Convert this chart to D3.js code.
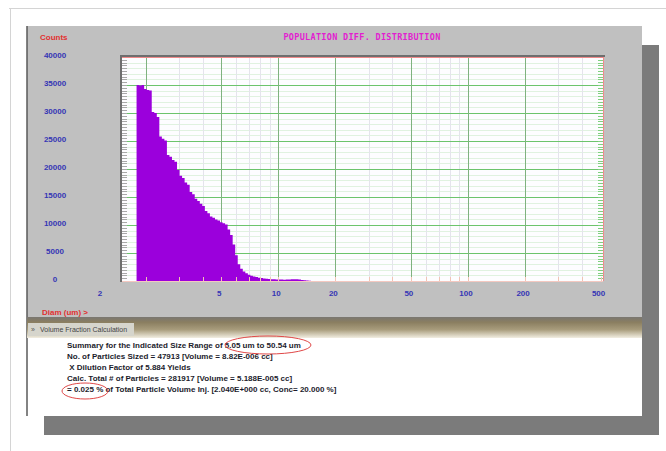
<!DOCTYPE html>
<html>
<head>
<meta charset="utf-8">
<script src="https://cdnjs.cloudflare.com/ajax/libs/d3/7.8.5/d3.min.js"></script>
<style>
body { margin: 0; background: #fff; }
svg { display: block; }
</style>
</head>
<body>
<svg width="666" height="451"></svg>
<script>
// particle counts per size channel (geometric channels starting at binStart um)
var counts = [35000, 34900, 35000, 34300, 34100, 34000, 30200, 30000, 29300, 25800,
    25400, 25100, 22500, 22200, 21600, 21300, 19800, 18800, 18400, 17600,
    17200, 15900, 15500, 14700, 14300, 13800, 13400, 12500, 12100, 11500,
    11300, 11000, 10800, 10500, 10300, 10100, 9200, 8200, 6500, 4600,
    3000, 2200, 1700, 1400, 1100, 950, 800, 700, 600, 520,
    450, 400, 360, 330, 300, 280, 260, 250, 230, 250,
    280, 320, 330, 300, 250, 200, 150, 100, 60];
var binStart = 1.79;
var binsPerDecade = 75;

var yTicks = [0, 5000, 10000, 15000, 20000, 25000, 30000, 35000, 40000];
var xTicks = [2, 5, 10, 20, 50, 100, 200, 500];
var xMinor = [3, 4, 6, 7, 8, 9, 30, 40, 60, 70, 80, 90, 300, 400];

var titleText = "POPULATION DIFF. DISTRIBUTION";
var yTitle = "Counts";
var xTitle = "Diam (um) >";
var tabText = "Volume Fraction Calculation";
var summaryLines = [
    "Summary for the Indicated Size Range of 5.05 um to 50.54 um",
    "No. of Particles Sized = 47913 [Volume = 8.82E-006 cc]",
    " X Dilution Factor of 5.884 Yields",
    "Calc. Total # of Particles = 281917 [Volume = 5.188E-005 cc]",
    "= 0.025 % of Total Particle Volume Inj. [2.040E+000 cc, Conc= 20.000 %]"
];

var svg = d3.select("svg");

// outer page frame
svg.append("line").attr("x1", 9).attr("x2", 666).attr("y1", 8.5).attr("y2", 8.5)
    .attr("stroke", "#d4d4d4");
svg.append("line").attr("x1", 10.5).attr("x2", 10.5).attr("y1", 8).attr("y2", 451)
    .attr("stroke", "#d4d4d4");

// window + drop shadow
svg.append("rect").attr("x", 44).attr("y", 45).attr("width", 615).attr("height", 390)
    .attr("fill", "#7b7b7b");
svg.append("rect").attr("x", 27).attr("y", 26).attr("width", 615).attr("height", 390)
    .attr("fill", "#fff");
svg.append("rect").attr("x", 27).attr("y", 26).attr("width", 615).attr("height", 291)
    .attr("fill", "#c0c0c0");
svg.append("line").attr("x1", 27).attr("x2", 27).attr("y1", 26).attr("y2", 416)
    .attr("stroke", "#5a5a5a").attr("stroke-width", 1.5);

// tab band
var defs = svg.append("defs");
var grad = defs.append("linearGradient").attr("id", "band").attr("x1", 0).attr("x2", 0).attr("y1", 0).attr("y2", 1);
grad.append("stop").attr("offset", "0%").attr("stop-color", "#7a7772");
grad.append("stop").attr("offset", "25%").attr("stop-color", "#8a7e60");
grad.append("stop").attr("offset", "60%").attr("stop-color", "#a89c7c");
grad.append("stop").attr("offset", "100%").attr("stop-color", "#f2eee2");
svg.append("rect").attr("x", 27).attr("y", 317).attr("width", 615).attr("height", 21)
    .attr("fill", "url(#band)");
svg.append("rect").attr("x", 28).attr("y", 323).attr("width", 106).attr("height", 13)
    .attr("fill", "#d6d5cc");
svg.append("text").attr("x", 31).attr("y", 332).text("\u00bb")
    .attr("font-family", "Liberation Sans").attr("font-size", 7).attr("fill", "#555");
svg.append("text").attr("x", 40).attr("y", 332).text(tabText)
    .attr("font-family", "Liberation Sans").attr("font-size", 7).attr("fill", "#444");

// plot
var pLeft = 122, pRight = 603, pTop = 57, pBottom = 281;
var x = d3.scaleLog().domain([1.5, 515]).range([pLeft, pRight]);
var y = d3.scaleLinear().domain([0, 40000]).range([pBottom, pTop]);

svg.append("rect").attr("x", pLeft).attr("y", pTop).attr("width", pRight - pLeft).attr("height", pBottom - pTop)
    .attr("fill", "#fdfdff");

// minor horizontal grid every 1000
svg.append("g").selectAll("line").data(d3.range(0, 40001, 1000)).enter().append("line")
    .attr("x1", pLeft).attr("x2", pRight)
    .attr("y1", function (d) { return Math.round(y(d)) + 0.5; })
    .attr("y2", function (d) { return Math.round(y(d)) + 0.5; })
    .attr("stroke", "#e0f2e0");
// minor vertical grid
svg.append("g").selectAll("line").data(xMinor).enter().append("line")
    .attr("x1", function (d) { return Math.round(x(d)) + 0.5; })
    .attr("x2", function (d) { return Math.round(x(d)) + 0.5; })
    .attr("y1", pTop).attr("y2", pBottom)
    .attr("stroke", "#e4e4ec");
// major grid
svg.append("g").selectAll("line").data(yTicks.slice(1)).enter().append("line")
    .attr("x1", pLeft).attr("x2", pRight)
    .attr("y1", function (d) { return Math.round(y(d)) + 0.5; })
    .attr("y2", function (d) { return Math.round(y(d)) + 0.5; })
    .attr("stroke", "#6cc46c");
svg.append("g").selectAll("line").data(xTicks.slice(0, -1)).enter().append("line")
    .attr("x1", function (d) { return Math.round(x(d)) + 0.5; })
    .attr("x2", function (d) { return Math.round(x(d)) + 0.5; })
    .attr("y1", pTop).attr("y2", pBottom)
    .attr("stroke", "#7fb27f");

// histogram as one stepped area
var binEdge = function (i) { return binStart * Math.pow(10, i / binsPerDecade); };
var steps = counts.map(function (c, i) { return [binEdge(i), c]; });
steps.push([binEdge(counts.length), counts[counts.length - 1]]);
var area = d3.area()
    .x(function (d) { return x(d[0]); })
    .y0(pBottom)
    .y1(function (d) { return y(d[1]); })
    .curve(d3.curveStepAfter);
svg.append("path").datum(steps).attr("d", area).attr("fill", "#9b00dc");

// edge ticks
svg.append("g").selectAll("line").data(d3.range(0, 40001, 500)).enter().append("line")
    .attr("x1", pLeft).attr("x2", pLeft + 5)
    .attr("y1", function (d) { return Math.round(y(d)) + 0.5; })
    .attr("y2", function (d) { return Math.round(y(d)) + 0.5; })
    .attr("stroke", "#a8a8a8");
svg.append("g").selectAll("line").data(d3.range(0, 40001, 500)).enter().append("line")
    .attr("x1", pRight - 5).attr("x2", pRight)
    .attr("y1", function (d) { return Math.round(y(d)) + 0.5; })
    .attr("y2", function (d) { return Math.round(y(d)) + 0.5; })
    .attr("stroke", "#7fd07f");
svg.append("g").selectAll("line").data(xMinor.concat(xTicks)).enter().append("line")
    .attr("x1", function (d) { return Math.round(x(d)) + 0.5; })
    .attr("x2", function (d) { return Math.round(x(d)) + 0.5; })
    .attr("y1", pBottom - 4).attr("y2", pBottom)
    .attr("stroke", "#f0c4b4");

// frame
svg.append("line").attr("x1", pRight + 0.5).attr("x2", pRight + 0.5).attr("y1", pTop).attr("y2", pBottom)
    .attr("stroke", "#f08a8a");
svg.append("line").attr("x1", pLeft).attr("x2", pRight).attr("y1", pBottom + 0.5).attr("y2", pBottom + 0.5)
    .attr("stroke", "#f4c8c0");
svg.append("line").attr("x1", pLeft - 2).attr("x2", pRight + 2).attr("y1", pTop - 1).attr("y2", pTop - 1)
    .attr("stroke", "#6e6e6e").attr("stroke-width", 2);
svg.append("line").attr("x1", pLeft - 1).attr("x2", pLeft - 1).attr("y1", pTop - 2).attr("y2", pBottom + 1)
    .attr("stroke", "#6e6e6e").attr("stroke-width", 2);
svg.append("line").attr("x1", pLeft).attr("x2", pRight).attr("y1", pTop + 0.5).attr("y2", pTop + 0.5)
    .attr("stroke", "#f08a8a");

// axis labels
svg.append("g").selectAll("text").data(yTicks).enter().append("text")
    .attr("x", 55).attr("y", function (d) { return y(d) + 1; })
    .attr("text-anchor", "middle")
    .attr("font-family", "Liberation Sans").attr("font-weight", "bold").attr("font-size", 8)
    .attr("fill", "#3535b5")
    .text(function (d) { return d; });
svg.append("g").selectAll("text").data(xTicks).enter().append("text")
    .attr("x", function (d, i) { return i === 0 ? x.range()[0] - 22 : x(d) - 2; })
    .attr("y", 296)
    .attr("text-anchor", "middle")
    .attr("font-family", "Liberation Sans").attr("font-weight", "bold").attr("font-size", 8)
    .attr("fill", "#3535b5")
    .text(function (d) { return d; });

svg.append("text").attr("x", 40).attr("y", 40).text(yTitle)
    .attr("font-family", "Liberation Sans").attr("font-weight", "bold").attr("font-size", 8)
    .attr("fill", "#e23030");
svg.append("text").attr("x", 42).attr("y", 315).text(xTitle)
    .attr("font-family", "Liberation Sans").attr("font-weight", "bold").attr("font-size", 8)
    .attr("fill", "#e23030");
svg.append("text").attr("x", 362).attr("y", 40).text(titleText)
    .attr("text-anchor", "middle")
    .attr("font-family", "DejaVu Sans Mono").attr("font-weight", "bold").attr("font-size", 8.5)
    .attr("letter-spacing", 0.3)
    .attr("fill", "#e21ed0");

// summary text
svg.append("g").selectAll("text").data(summaryLines).enter().append("text")
    .attr("x", 67).attr("y", function (d, i) { return 348 + i * 11; })
    .attr("font-family", "Liberation Sans").attr("font-weight", "bold").attr("font-size", 8)
    .attr("fill", "#1c1c2c")
    .attr("xml:space", "preserve")
    .text(function (d) { return d; });

// hand-drawn red rings
svg.append("ellipse").attr("cx", 268).attr("cy", 345).attr("rx", 43).attr("ry", 9)
    .attr("fill", "none").attr("stroke", "#e04848").attr("stroke-width", 1);
svg.append("ellipse").attr("cx", 85).attr("cy", 391).attr("rx", 23).attr("ry", 8)
    .attr("fill", "none").attr("stroke", "#e04848").attr("stroke-width", 1);
</script>
</body>
</html>
